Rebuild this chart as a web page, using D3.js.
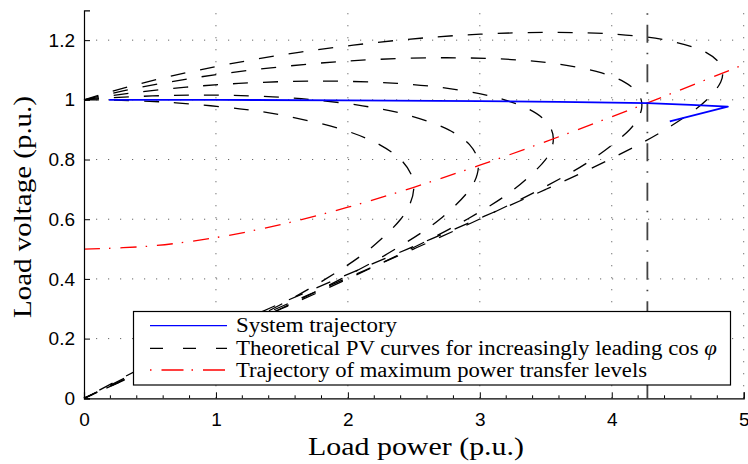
<!DOCTYPE html>
<html>
<head>
<meta charset="utf-8">
<script src="https://cdn.jsdelivr.net/npm/d3@7"></script>
<style>
  html, body { margin: 0; padding: 0; background: #fff; }
  svg { display: block; }
</style>
</head>
<body>
<svg id="chart" width="748" height="464"></svg>
<script>
// ---- data ----
const xTicks = [0, 1, 2, 3, 4, 5];
const yTicks = [0, 0.2, 0.4, 0.6, 0.8, 1, 1.2];
const yTickLabels = ["0", "0.2", "0.4", "0.6", "0.8", "1", "1.2"];

// Theoretical PV curves (increasingly leading cos phi)
const pvA_P = [0, 0.223, 0.497, 0.698, 1.179, 1.483, 1.962, 2.239, 2.400, 2.480, 2.500, 2.470, 2.400, 2.165, 1.833, 1.431, 0.980, 0.497, 0];
const pvA_V = [1, 0.999, 0.995, 0.990, 0.970, 0.950, 0.900, 0.850, 0.800, 0.750, 0.707, 0.650, 0.600, 0.500, 0.400, 0.300, 0.200, 0.100, 0];
const pvB_P = [0, 0.152, 0.347, 0.669, 0.900, 1.127, 1.432, 1.743, 2.111, 2.445, 2.761, 2.922, 2.985, 2.980, 2.924, 2.697, 2.360, 1.949, 1.489, 1.000, 0.498, 0];
const pvB_V = [1, 1.005, 1.010, 1.015, 1.016, 1.015, 1.010, 1.000, 0.980, 0.950, 0.900, 0.850, 0.800, 0.750, 0.700, 0.600, 0.500, 0.400, 0.300, 0.200, 0.100, 0];
const pvC_P = [0, 0.309, 0.715, 1.172, 1.800, 2.375, 2.732, 3.006, 3.187, 3.365, 3.472, 3.543, 3.557, 3.546, 3.498, 3.259, 2.904, 2.474, 1.998, 1.497, 0.988, 0.484, 0];
const pvC_V = [1, 1.020, 1.040, 1.055, 1.063, 1.055, 1.040, 1.020, 1.000, 0.970, 0.940, 0.900, 0.870, 0.840, 0.800, 0.700, 0.600, 0.500, 0.400, 0.300, 0.200, 0.100, 0];
const pvD_P = [0, 0.296, 0.651, 1.093, 1.706, 2.199, 2.750, 3.240, 3.591, 3.924, 4.093, 4.183, 4.223, 4.226, 4.201, 4.135, 3.851, 3.457, 2.996, 2.497, 1.979, 1.458, 0.947, 0.458, 0];
const pvD_V = [1, 1.030, 1.060, 1.090, 1.120, 1.135, 1.141, 1.135, 1.120, 1.090, 1.060, 1.030, 1.000, 0.970, 0.940, 0.900, 0.800, 0.700, 0.600, 0.500, 0.400, 0.300, 0.200, 0.100, 0];
const pvE_P = [0, 0.306, 0.667, 1.100, 1.641, 2.389, 3.005, 3.550, 4.021, 4.409, 4.711, 4.821, 4.841, 4.826, 4.721, 4.404, 3.983, 3.500, 2.983, 2.451, 1.919, 1.398, 0.899, 0.430, 0];
const pvE_V = [1, 1.040, 1.080, 1.120, 1.160, 1.200, 1.220, 1.226, 1.220, 1.200, 1.160, 1.120, 1.090, 1.060, 1.000, 0.900, 0.800, 0.700, 0.600, 0.500, 0.400, 0.300, 0.200, 0.100, 0];

// Trajectory of maximum power transfer levels
const maxP = [0, 0.5, 1, 1.5, 2, 2.5, 3, 3.5, 4, 4.5, 5];
const maxV = [0.5, 0.51, 0.5385, 0.5831, 0.6403, 0.7071, 0.781, 0.8602, 0.9434, 1.0296, 1.118];

// System trajectory
const sysP = [0.19, 1.0, 2.0, 3.0, 3.6, 4.0, 4.27, 4.6, 4.88, 4.44];
const sysV = [1.0, 1.0, 0.998, 0.996, 0.993, 0.991, 0.989, 0.983, 0.977, 0.928];

// Vertical marker (critical load power)
const markerP = 4.27;

const legendLabels = ["System trajectory", "Theoretical PV curves for increasingly leading cos ", "Trajectory of maximum power transfer levels"];

// ---- layout ----
const svg = d3.select("#chart");
const x = d3.scaleLinear().domain([0, 5]).range([84, 743.7]);
const y = d3.scaleLinear().domain([0, 1.3]).range([398.3, 10.3]);

const zip = (a, b) => a.map((v, i) => [v, b[i]]);

// grid
const grid = svg.append("g");
grid.selectAll(".gx").data(xTicks.filter(d => d > 0)).enter().append("line")
  .attr("x1", d => x(d)).attr("x2", d => x(d))
  .attr("y1", y(0)).attr("y2", y(1.3))
  .attr("stroke", "#666").attr("stroke-width", 1).attr("stroke-dasharray", "1.2,10.8");
grid.selectAll(".gy").data(yTicks.filter(d => d > 0)).enter().append("line")
  .attr("y1", d => y(d)).attr("y2", d => y(d))
  .attr("x1", x(0)).attr("x2", x(5))
  .attr("stroke", "#666").attr("stroke-width", 1).attr("stroke-dasharray", "1.2,10.8");

const line = d3.line().x(d => x(d[0])).y(d => y(d[1])).curve(d3.curveCatmullRom.alpha(0.5));
const lineLin = d3.line().x(d => x(d[0])).y(d => y(d[1]));

// PV curves
const pvSets = [[pvA_P, pvA_V], [pvB_P, pvB_V], [pvC_P, pvC_V], [pvD_P, pvD_V], [pvE_P, pvE_V]];
pvSets.forEach(([p, v]) => {
  svg.append("path").attr("d", line(zip(p, v)))
    .attr("fill", "none").attr("stroke", "#000").attr("stroke-width", 1.3)
    .attr("stroke-dasharray", "15,15");
});

// max power transfer trajectory
svg.append("path").attr("d", line(zip(maxP, maxV)))
  .attr("fill", "none").attr("stroke", "#ff0000").attr("stroke-width", 1.3)
  .attr("stroke-dasharray", "16,9,1.5,10");

// vertical marker
svg.append("line")
  .attr("x1", x(markerP)).attr("x2", x(markerP))
  .attr("y1", y(0)).attr("y2", y(1.3))
  .attr("stroke", "#444").attr("stroke-width", 1.8)
  .attr("stroke-dasharray", "18,10,1.5,10");

// system trajectory
svg.append("path").attr("d", lineLin(zip(sysP, sysV)))
  .attr("fill", "none").attr("stroke", "#0000ff").attr("stroke-width", 1.8)
  .attr("stroke-linejoin", "round");

// axes
const xAxis = d3.axisBottom(x).tickValues(xTicks).tickSize(-6).tickPadding(14).tickFormat(d3.format("d"));
const gx = svg.append("g").attr("transform", `translate(0,${y(0)})`).call(xAxis);
gx.select(".domain").attr("stroke", "#000").attr("stroke-width", 1.2);
gx.selectAll("text").attr("font-family", "Liberation Sans, Arial, sans-serif").attr("font-size", 19).attr("fill", "#000");

const minorX = d3.range(0, 5.001, 0.2).filter(d => Math.abs(d - Math.round(d)) > 1e-6);
svg.append("g").selectAll("line").data(minorX).enter().append("line")
  .attr("x1", d => x(d)).attr("x2", d => x(d))
  .attr("y1", y(0)).attr("y2", y(0) - 3).attr("stroke", "#000").attr("stroke-width", 1);

const yAxis = d3.axisLeft(y).tickValues(yTicks).tickSize(-6).tickPadding(9).tickFormat((d, i) => yTickLabels[i]);
const gy = svg.append("g").attr("transform", `translate(${x(0)},0)`).call(yAxis);
gy.select(".domain").attr("stroke", "#000").attr("stroke-width", 1.2);
gy.selectAll("text").attr("font-family", "Liberation Sans, Arial, sans-serif").attr("font-size", 19).attr("fill", "#000");

// axis titles
svg.append("text").attr("x", 416).attr("y", 455).attr("text-anchor", "middle")
  .attr("font-family", "Liberation Serif, Times New Roman, serif").attr("font-size", 25)
  .attr("textLength", 216).attr("lengthAdjust", "spacingAndGlyphs")
  .text("Load power (p.u.)");
svg.append("text").attr("transform", "translate(31,207) rotate(-90)").attr("text-anchor", "middle")
  .attr("font-family", "Liberation Serif, Times New Roman, serif").attr("font-size", 25)
  .attr("textLength", 222).attr("lengthAdjust", "spacingAndGlyphs")
  .text("Load voltage (p.u.)");

// legend
const lg = svg.append("g");
lg.append("rect").attr("x", 133.5).attr("y", 311.5).attr("width", 597).attr("height", 73.5)
  .attr("fill", "#fff").attr("stroke", "#000").attr("stroke-width", 1.2);
const rowsY = [325.7, 348.3, 370];
const styles = [
  {stroke: "#0000ff", dash: null, w: 1.3},
  {stroke: "#000", dash: "13,20", w: 1.3},
  {stroke: "#ff0000", dash: "1.5,10,22,8", w: 1.3}
];
const lens = [161, 481, 411];
styles.forEach((s, i) => {
  const l = lg.append("line").attr("x1", 150).attr("x2", 227).attr("y1", rowsY[i]).attr("y2", rowsY[i])
    .attr("stroke", s.stroke).attr("stroke-width", s.w);
  if (s.dash) l.attr("stroke-dasharray", s.dash);
  const t = lg.append("text").attr("x", 236).attr("y", rowsY[i] + 6.5)
    .attr("font-family", "Liberation Serif, Times New Roman, serif").attr("font-size", 20)
    .attr("textLength", lens[i]).attr("lengthAdjust", "spacingAndGlyphs")
    .text(legendLabels[i]);
  if (i === 1) t.append("tspan").attr("font-style", "italic").text("\u03C6");
});
</script>
</body>
</html>
